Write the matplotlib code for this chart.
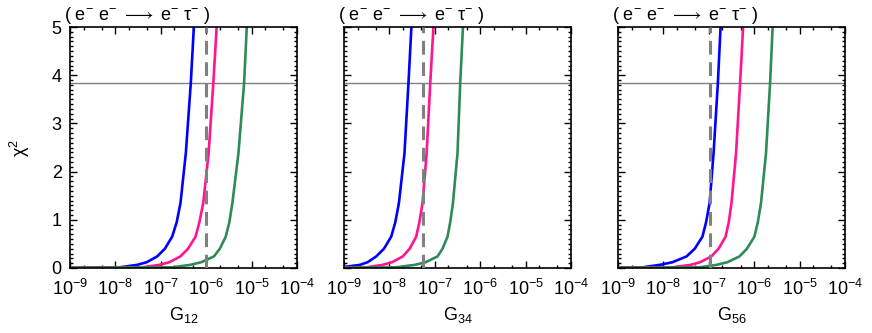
import numpy as np
import matplotlib
matplotlib.use('Agg')
import matplotlib.pyplot as plt
from matplotlib.ticker import LogLocator, FixedLocator, NullFormatter, MultipleLocator

plt.rcParams['font.family'] = 'sans-serif'
plt.rcParams['font.sans-serif'] = ['Liberation Sans']
plt.rcParams['mathtext.fontset'] = 'custom'
plt.rcParams['mathtext.rm'] = 'Liberation Sans'
plt.rcParams['mathtext.it'] = 'Liberation Sans:italic'
plt.rcParams['mathtext.sf'] = 'Liberation Sans'

chi2_levels = [0, 0.015, 0.065, 0.12, 0.24, 0.4, 0.65, 0.95, 1.35, 2.38, 3.84, 5.0]

# log10(G) of each curve at those levels
# panel G12
blue_12 = [-9.5, -7.9, -7.52, -7.31, -7.08, -6.91, -6.75, -6.65, -6.566, -6.449, -6.339, -6.272]
pink_12 = [-9.5, -7.4, -7.03, -6.81, -6.57, -6.40, -6.235, -6.15, -6.065, -5.947, -5.843, -5.77]
green_12 = [-9.5, -6.75, -6.35, -6.11, -5.83, -5.70, -5.57, -5.49, -5.423, -5.29, -5.165, -5.106]
# panel G34
blue_34 = [-9.5, -9.05, -8.65, -8.48, -8.29, -8.12, -7.96, -7.87, -7.79, -7.668, -7.58, -7.515]
pink_34 = [-9.5, -8.5, -8.15, -7.94, -7.705, -7.555, -7.41, -7.34, -7.27, -7.18, -7.10, -7.03]
green_34 = [-9.5, -7.85, -7.44, -7.20, -6.94, -6.83, -6.72, -6.66, -6.60, -6.50, -6.44, -6.38]
# panel G56
blue_56 = [-9.5, -8.45, -8.08, -7.80, -7.49, -7.31, -7.14, -7.06, -6.982, -6.895, -6.80, -6.741]
pink_56 = [-9.5, -7.8, -7.4, -7.19, -6.945, -6.785, -6.63, -6.56, -6.50, -6.40, -6.31, -6.245]
green_56 = [-9.5, -7.2, -6.83, -6.59, -6.325, -6.16, -5.996, -5.92, -5.85, -5.74, -5.65, -5.594]

# vertical dashed limits
dash_12 = 1.0e-6
dash_34 = 5.6e-8
dash_56 = 1.08e-7

chi2_cut = 3.84
xlabels = ['G$_{12}$', 'G$_{34}$', 'G$_{56}$']
xticks = [1e-9, 1e-8, 1e-7, 1e-6, 1e-5, 1e-4]
xticklabels = ['$10^{-9}$', '$10^{-8}$', '$10^{-7}$', '$10^{-6}$', '$10^{-5}$', '$10^{-4}$']
yticks = [0, 1, 2, 3, 4, 5]
yticklabels = ['0', '1', '2', '3', '4', '5']
title = '( e$^{-}$ e$^{-}$ $\\longrightarrow$ e$^{-}$ \u03c4$^{-}$ )'

panels = [
    (blue_12, pink_12, green_12, dash_12),
    (blue_34, pink_34, green_34, dash_34),
    (blue_56, pink_56, green_56, dash_56),
]

fig = plt.figure(figsize=(8.72, 3.33), dpi=100)
lefts = [70 / 872, 344 / 872, 618 / 872]
width = 227 / 872
bottom = (333 - 268) / 333
height = 241 / 333

fs = 13
for i, (b, p, g, d) in enumerate(panels):
    ax = fig.add_axes([lefts[i], bottom, width, height])
    ax.axhline(chi2_cut, color='#808080', lw=1.0, zorder=1)
    ax.plot(10 ** np.array(b), chi2_levels, color='#0000ff', lw=1.9, zorder=2)
    ax.plot(10 ** np.array(p), chi2_levels, color='#ff1493', lw=1.9, zorder=2)
    ax.plot(10 ** np.array(g), chi2_levels, color='#2e8b57', lw=1.9, zorder=2)
    ax.plot([d, d], [0, 5], color='#808080', lw=2.2, dashes=(4.5, 2.5), zorder=3)

    ax.set_xscale('log')
    ax.set_xlim(1e-9, 1e-4)
    ax.set_ylim(0, 5)
    ax.xaxis.set_major_locator(FixedLocator(xticks))
    ax.set_xticklabels(xticklabels, fontsize=fs)
    ax.xaxis.set_minor_locator(LogLocator(base=10, subs=(2.0, 5.0), numticks=20))
    ax.xaxis.set_minor_formatter(NullFormatter())
    ax.yaxis.set_major_locator(FixedLocator(yticks))
    ax.yaxis.set_minor_locator(MultipleLocator(0.1))
    ax.tick_params(which='both', direction='in', top=True, right=True, width=1.0)
    ax.tick_params(which='major', length=5)
    ax.tick_params(axis='x', which='major', pad=8)
    ax.tick_params(axis='y', which='major', pad=6)
    ax.tick_params(which='minor', length=2.5)
    if i == 0:
        ax.set_yticklabels(yticklabels, fontsize=fs)
        ax.set_ylabel('\u03c7$^{2}$', fontsize=fs, labelpad=14)
    else:
        ax.set_yticklabels([])
    for sp in ax.spines.values():
        sp.set_linewidth(1.2)
    ax.set_xlabel(xlabels[i], fontsize=fs, labelpad=4)
    ax.text(-0.025, 1.004, title, transform=ax.transAxes, fontsize=13,
            ha='left', va='bottom')

fig.savefig('out.png', dpi=100)
